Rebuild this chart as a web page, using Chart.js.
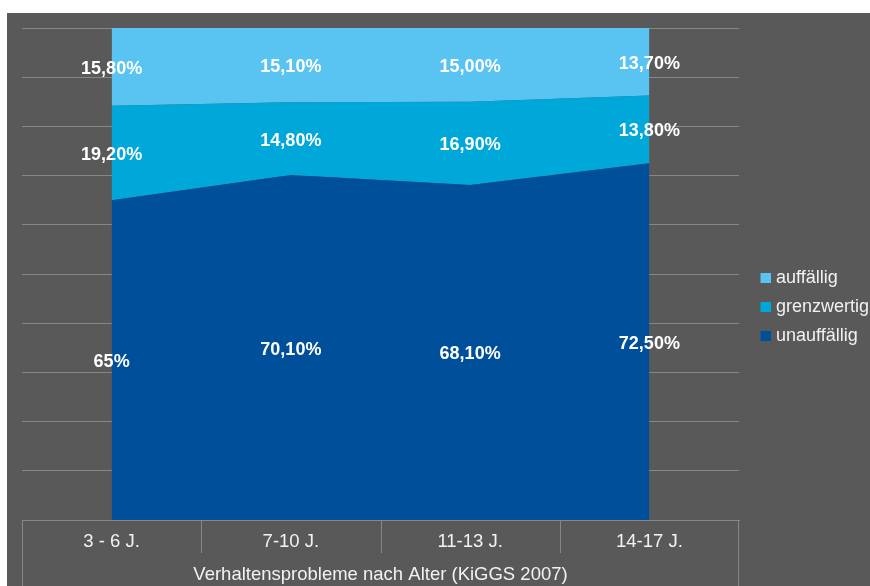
<!DOCTYPE html>
<html lang="de">
<head>
<meta charset="utf-8">
<title>Verhaltensprobleme nach Alter</title>
<script src="https://cdn.jsdelivr.net/npm/chart.js@4/dist/chart.umd.min.js"></script>
<style>
    html, body { margin: 0; padding: 0; background: #ffffff; }
    #wrap {
        position: absolute;
        left: 7px;
        top: 13px;
        width: 863px;
        height: 573px;
        background: #595959;
    }
</style>
</head>
<body>
<div id="wrap"><canvas id="ageChart" width="863" height="573"></canvas></div>
<script>
// Altersgruppen und Anteile in Prozent
const ageGroups = ["3 - 6 J.", "7-10 J.", "11-13 J.", "14-17 J."];
const unauffaellig = [65, 70.1, 68.1, 72.5];
const grenzwertig = [19.2, 14.8, 16.9, 13.8];
const auffaellig = [15.8, 15.1, 15.0, 13.7];
// nachkommastellen der beschriftung je reihe
const unauffaelligDigits = [0, 2, 2, 2];
const grenzwertigDigits = [2, 2, 2, 2];
const auffaelligDigits = [2, 2, 2, 2];

const axisColor = '#878787';
const textColor = '#F2F2F2';
const fontFamily = '"Liberation Sans", Arial, sans-serif';
const colors = ['#004F9A', '#00A8D9', '#59C4F1'];

function fmtPercent(v, digits) {
    return v.toFixed(digits).replace('.', ',') + '%';
}

// kleines quadrat fuer die legende, rechts im bild
function swatch(color) {
    const c = document.createElement('canvas');
    c.width = 24;
    c.height = 10;
    const g = c.getContext('2d');
    g.fillStyle = color;
    g.fillRect(14, 0, 10, 10);
    return c;
}
const swatches = colors.map(swatch);

// werte mittig in jede flaeche schreiben
const valueLabels = {
    id: 'valueLabels',
    afterDatasetsDraw(chart) {
        const ctx = chart.ctx;
        const x = chart.scales.x;
        const y = chart.scales.y;
        const sets = chart.data.datasets;
        ctx.save();
        ctx.font = 'bold 18px ' + fontFamily;
        ctx.fillStyle = '#ffffff';
        ctx.textAlign = 'center';
        ctx.textBaseline = 'middle';
        for (let j = 0; j < ageGroups.length; j++) {
            let base = 0;
            sets.forEach(ds => {
                const v = ds.data[j];
                ctx.fillText(fmtPercent(v, ds.digits[j]), x.getPixelForValue(j), y.getPixelForValue(base + v / 2) + 2);
                base += v;
            });
        }
        ctx.restore();
    }
};

// tabellenartige achse unten
const axisTable = {
    id: 'axisTable',
    afterDraw(chart) {
        const ctx = chart.ctx;
        const x = chart.scales.x;
        const top = chart.chartArea.bottom;
        ctx.save();
        ctx.strokeStyle = axisColor;
        ctx.lineWidth = 1;
        ctx.beginPath();
        for (let i = 1; i < ageGroups.length; i++) {
            const px = Math.round((x.getPixelForValue(i - 1) + x.getPixelForValue(i)) / 2) + 0.5;
            ctx.moveTo(px, top);
            ctx.lineTo(px, top + 33);
        }
        ctx.moveTo(Math.round(x.left) + 0.5, top);
        ctx.lineTo(Math.round(x.left) + 0.5, chart.height);
        ctx.moveTo(Math.round(x.right) - 0.5, top);
        ctx.lineTo(Math.round(x.right) - 0.5, chart.height);
        ctx.stroke();
        ctx.restore();
    }
};

const ctx = document.getElementById("ageChart").getContext("2d");

new Chart(ctx, {
    type: 'line',
    data: {
        labels: ageGroups,
        datasets: [
            {
                label: 'unauffällig',
                data: unauffaellig,
                digits: unauffaelligDigits,
                backgroundColor: colors[0],
                borderColor: colors[0],
                fill: 'origin'
            },
            {
                label: 'grenzwertig',
                data: grenzwertig,
                digits: grenzwertigDigits,
                backgroundColor: colors[1],
                borderColor: colors[1],
                fill: '-1'
            },
            {
                label: 'auffällig',
                data: auffaellig,
                digits: auffaelligDigits,
                backgroundColor: colors[2],
                borderColor: colors[2],
                fill: '-1'
            }
        ]
    },
    options: {
        responsive: false,
        animation: false,
        events: [],
        elements: {
            point: { radius: 0 },
            line: { borderWidth: 0, tension: 0 }
        },
        layout: {
            padding: { left: 15, top: 15, right: 0, bottom: 0 }
        },
        plugins: {
            tooltip: { enabled: false },
            legend: {
                position: 'right',
                reverse: true,
                maxWidth: 131,
                labels: {
                    color: textColor,
                    usePointStyle: true,
                    pointStyleWidth: 17,
                    boxHeight: 10,
                    padding: 11,
                    font: { family: fontFamily, size: 18 },
                    generateLabels(chart) {
                        const items = Chart.defaults.plugins.legend.labels.generateLabels(chart);
                        items.forEach(it => { it.pointStyle = swatches[it.datasetIndex]; });
                        return items;
                    }
                }
            }
        },
        scales: {
            x: {
                offset: true,
                grid: { display: false, drawTicks: false },
                border: { display: true, color: axisColor, width: 1 },
                ticks: {
                    color: textColor,
                    padding: 10.8,
                    font: { family: fontFamily, size: 18.5 }
                },
                title: {
                    display: true,
                    text: 'Verhaltensprobleme nach Alter (KiGGS 2007)',
                    color: textColor,
                    padding: { top: 0, bottom: 0 },
                    font: { family: fontFamily, size: 18.5 }
                }
            },
            y: {
                stacked: true,
                min: 0,
                max: 100,
                ticks: { display: false, stepSize: 10 },
                grid: { color: axisColor, drawTicks: false },
                border: { display: false }
            }
        }
    },
    plugins: [valueLabels, axisTable]
});
</script>
</body>
</html>
